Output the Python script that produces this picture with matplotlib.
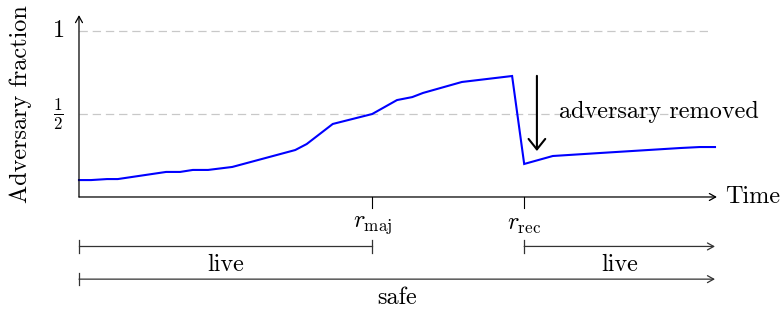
import matplotlib
matplotlib.use("Agg")
import matplotlib.pyplot as plt

plt.rcParams['font.family'] = 'serif'
plt.rcParams['font.serif'] = ['cmr10']
plt.rcParams['mathtext.fontset'] = 'cm'
plt.rcParams['axes.formatter.use_mathtext'] = True
plt.rcParams['lines.scale_dashes'] = False

# adversary fraction over time (time in arbitrary units, 0..10)
time_pts = [0.0, 0.19, 0.44, 0.61, 1.37, 1.59, 1.79, 2.03, 2.41, 3.40, 3.58,
            3.99, 4.61, 5.00, 5.24, 5.41, 6.02, 6.81, 7.00, 7.45, 8.19, 9.45,
            9.76, 10.0]
frac_pts = [0.102, 0.102, 0.108, 0.108, 0.151, 0.151, 0.163, 0.163, 0.181,
            0.283, 0.319, 0.440, 0.500, 0.584, 0.602, 0.627, 0.693, 0.729,
            0.199, 0.247, 0.265, 0.295, 0.301, 0.301]
r_maj = 4.61
r_rec = 7.0
t_end = 10.0
ref_levels = [1.0, 0.5]
ref_labels = ['$1$', r'$\frac{1}{2}$']

fig = plt.figure(figsize=(7.81, 3.12), dpi=100)
ax = fig.add_axes([0, 0, 1, 1])
ax.set_xlim(-1.242, 11.038)
ax.set_ylim(-0.693, 1.187)
ax.axis('off')

fs = 17.5

# dashed reference lines
for lvl, lab in zip(ref_levels, ref_labels):
    ax.plot([0, 9.92], [lvl, lvl], color='#c8c8c8', lw=0.9, ls=(0, (6, 3.5)))
    ax.text(-0.33, lvl, lab, ha='center', va='center', fontsize=fs)

# axes with arrows
arr = dict(arrowstyle='->, head_length=0.45, head_width=0.25', lw=0.9,
           color='black', shrinkA=0, shrinkB=0)
ax.annotate('', xy=(0, 1.096), xytext=(0, 0), arrowprops=arr)
ax.annotate('', xy=(10.03, 0), xytext=(0, 0), arrowprops=arr)
ax.text(10.16, 0, 'Time', ha='left', va='center', fontsize=fs)
ax.text(-0.92, 0.56, 'Adversary fraction', rotation=90, ha='center',
        va='center', fontsize=fs)

# curve
ax.plot(time_pts, frac_pts, color='#0000ff', lw=1.5, solid_joinstyle='miter')

# removal arrow
ax.annotate('', xy=(7.2, 0.277), xytext=(7.2, 0.73),
            arrowprops=dict(arrowstyle='->, head_length=0.75, head_width=0.6',
                            lw=1.5, color='black', shrinkA=0, shrinkB=0))
ax.text(7.54, 0.51, 'adversary removed', ha='left', va='center', fontsize=fs)

# x ticks
for r, lab in [(r_maj, r'$r_{\mathrm{maj}}$'), (r_rec, r'$r_{\mathrm{rec}}$')]:
    ax.plot([r, r], [0, -0.066], color='black', lw=0.8)
    ax.text(r, -0.17, lab, ha='center', va='center', fontsize=fs)

# live / safe intervals
bar_col = '#333333'
end_bar = 0.038
arr2 = dict(arrowstyle='->, head_length=0.45, head_width=0.25', lw=0.9,
            color=bar_col, shrinkA=0, shrinkB=0)

ax.plot([0, r_maj], [-0.298, -0.298], color=bar_col, lw=0.9)
for xb in [0, r_maj]:
    ax.plot([xb, xb], [-0.298 - end_bar, -0.298 + end_bar], color=bar_col, lw=0.9)
ax.text(r_maj / 2, -0.41, 'live', ha='center', va='center', fontsize=fs)

ax.annotate('', xy=(t_end, -0.298), xytext=(r_rec, -0.298), arrowprops=arr2)
ax.plot([r_rec, r_rec], [-0.298 - end_bar, -0.298 + end_bar], color=bar_col, lw=0.9)
ax.text((r_rec + t_end) / 2, -0.41, 'live', ha='center', va='center', fontsize=fs)

ax.annotate('', xy=(t_end, -0.495), xytext=(0, -0.495), arrowprops=arr2)
ax.plot([0, 0], [-0.495 - end_bar, -0.495 + end_bar], color=bar_col, lw=0.9)
ax.text(t_end / 2, -0.61, 'safe', ha='center', va='center', fontsize=fs)

fig.savefig('out.png', dpi=100)
